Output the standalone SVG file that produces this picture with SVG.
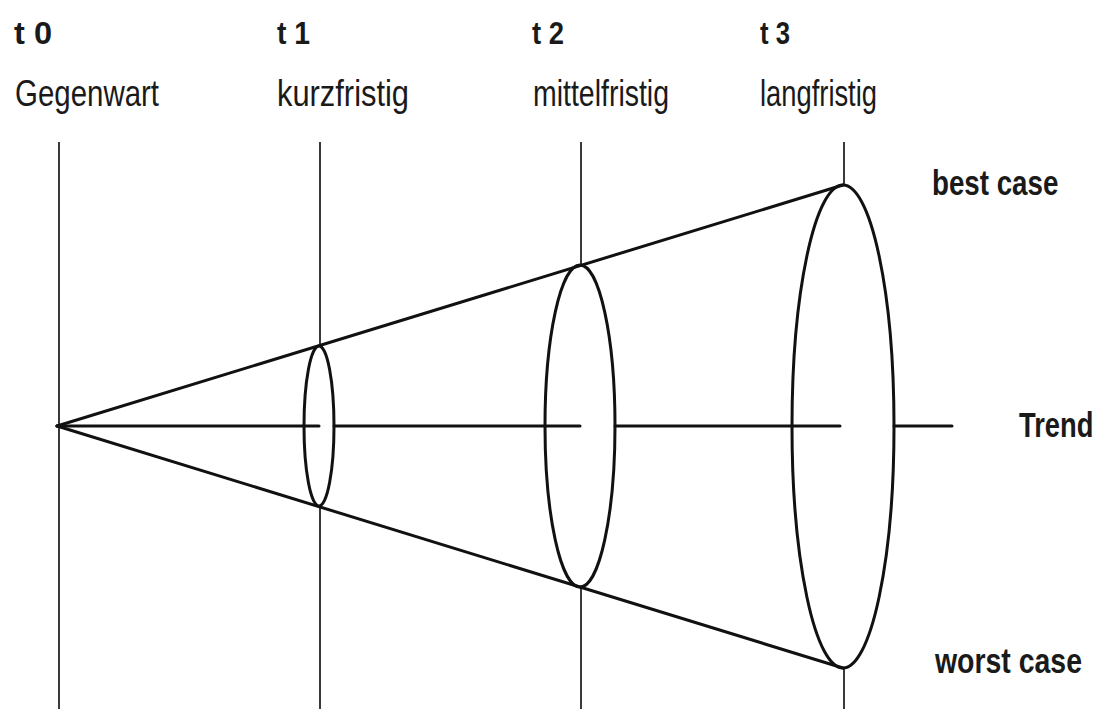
<svg xmlns="http://www.w3.org/2000/svg" width="1102" height="709" viewBox="0 0 1102 709">
<style>
.bg{fill:#ffffff}
.vline{stroke:#3a3a3a;stroke-width:2;fill:none}
.line{stroke:#111111;stroke-width:3;fill:none;stroke-linecap:round}
.ell{stroke:#111111;stroke-width:3;fill:none}
.lbl{font-family:"Liberation Sans",Arial,sans-serif;fill:#1a1a1a}
.b{font-weight:bold}
</style>
<rect class="bg" x="0" y="0" width="1102" height="709"/>
<g id="time-axes">
<line class="vline" x1="59" y1="142" x2="59" y2="709"/>
<line class="vline" x1="320" y1="142" x2="320" y2="346"/>
<line class="vline" x1="320" y1="506" x2="320" y2="709"/>
<line class="vline" x1="581" y1="142" x2="581" y2="265"/>
<line class="vline" x1="581" y1="587" x2="581" y2="709"/>
<line class="vline" x1="844" y1="142" x2="844" y2="185"/>
<line class="vline" x1="844" y1="668" x2="844" y2="709"/>
</g>
<g id="connectors">
<line class="line" x1="57" y1="426" x2="843" y2="185"/>
<line class="line" x1="57" y1="426" x2="843" y2="668"/>
<line class="line" x1="57" y1="426" x2="319" y2="426"/>
<line class="line" x1="334" y1="426" x2="580" y2="426"/>
<line class="line" x1="615" y1="426" x2="840" y2="426"/>
<line class="line" x1="894" y1="426" x2="952" y2="426"/>
</g>
<g id="ellipse-t1"><ellipse class="ell" cx="319" cy="426" rx="15" ry="80"/></g>
<g id="ellipse-t2"><ellipse class="ell" cx="580" cy="426" rx="35" ry="161"/></g>
<g id="ellipse-t3"><ellipse class="ell" cx="843" cy="426.5" rx="51" ry="241.5"/></g>
<g id="label-t0">
<text class="lbl b" x="14" y="44" font-size="32" textLength="38" lengthAdjust="spacingAndGlyphs">t 0</text>
<text class="lbl" x="15" y="106" font-size="36" textLength="144" lengthAdjust="spacingAndGlyphs">Gegenwart</text>
</g>
<g id="label-t1">
<text class="lbl b" x="277" y="44" font-size="32" textLength="33" lengthAdjust="spacingAndGlyphs">t 1</text>
<text class="lbl" x="277" y="106" font-size="36" textLength="132" lengthAdjust="spacingAndGlyphs">kurzfristig</text>
</g>
<g id="label-t2">
<text class="lbl b" x="532" y="44" font-size="32" textLength="32" lengthAdjust="spacingAndGlyphs">t 2</text>
<text class="lbl" x="533" y="106" font-size="36" textLength="136" lengthAdjust="spacingAndGlyphs">mittelfristig</text>
</g>
<g id="label-t3">
<text class="lbl b" x="760" y="44" font-size="32" textLength="30" lengthAdjust="spacingAndGlyphs">t 3</text>
<text class="lbl" x="760" y="106" font-size="36" textLength="117" lengthAdjust="spacingAndGlyphs">langfristig</text>
</g>
<g id="label-best">
<text class="lbl b" transform="translate(932 195) scale(0.77 1)" x="0" y="0" font-size="36">best case</text>
</g>
<g id="label-trend">
<text class="lbl b" transform="translate(1019 437) scale(0.76 1)" x="0" y="0" font-size="36">Trend</text>
</g>
<g id="label-worst">
<text class="lbl b" transform="translate(935 673) scale(0.79 1)" x="0" y="0" font-size="36">worst case</text>
</g>
</svg>
